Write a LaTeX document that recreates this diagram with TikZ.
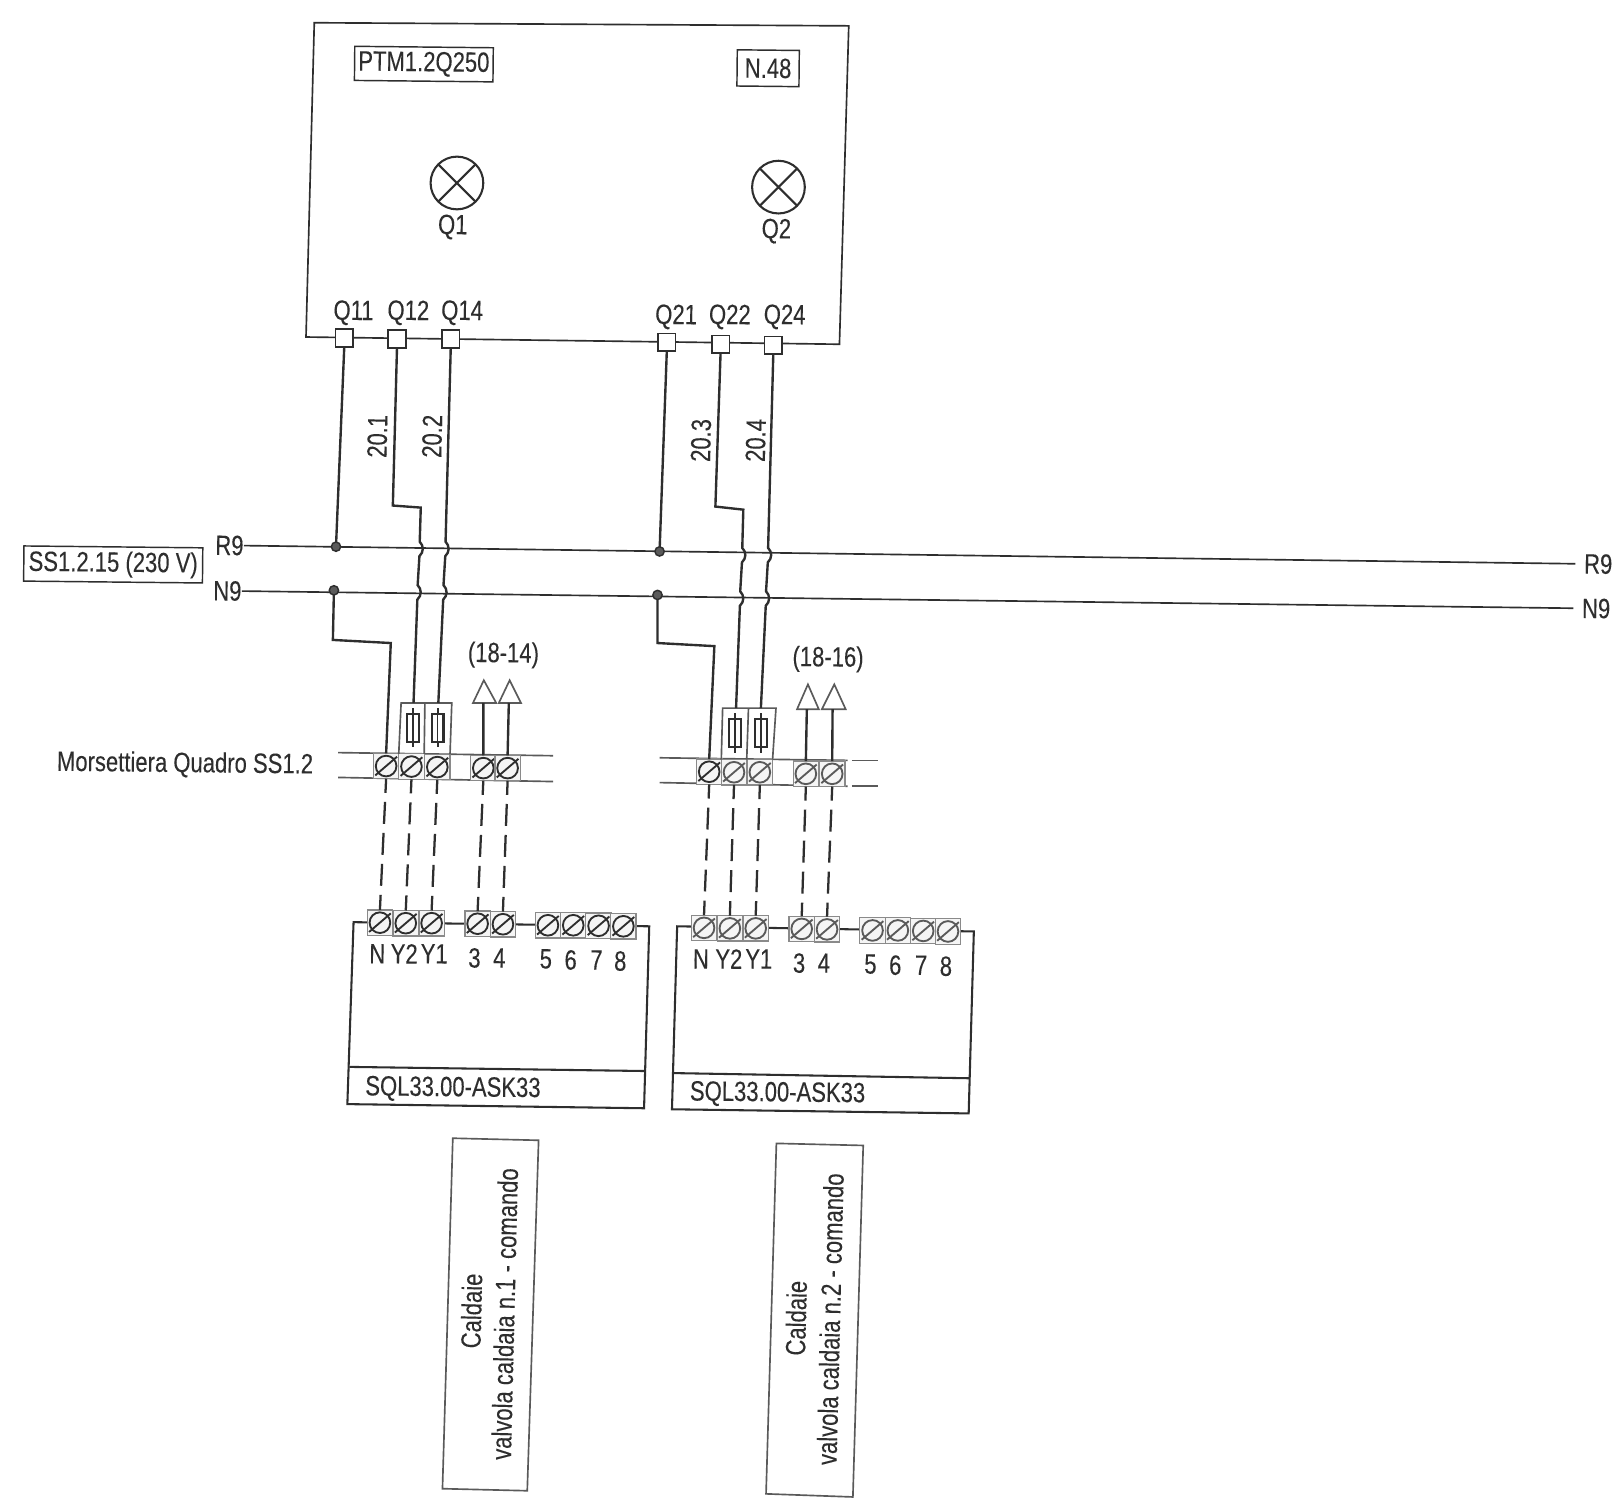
\documentclass[tikz,border=0pt]{standalone}
\usepackage{fontspec}
\setmainfont{Liberation Sans}[FakeStretch=0.79,FakeBold=0.12]
\definecolor{ink}{HTML}{2E2E2E}
\definecolor{cellc}{HTML}{8A8A8A}
\definecolor{softink}{HTML}{5A5A5A}
\newcommand{\cellterm}[4][ink]{%
  \node[cellbox] (#2) at (#3,#4) {};
  \draw[color=#1,line width=.9pt] (#2.center) circle (10);
  \draw[color=#1,line width=.9pt] ($(#2.center)+(-10.5,9)$) -- ($(#2.center)+(10.5,-9)$);
}
\newcommand{\hopat}[2]{-- (#1,#2-7) .. controls (#1+4,#2-3) and (#1+4,#2+3) .. (#1-0.3,#2+7)}
\usetikzlibrary{calc}
\tikzset{
  wire/.style={draw=ink,line width=1.15pt},
  thin wire/.style={draw=ink,line width=.8pt},
  dash wire/.style={draw=ink,line width=1.1pt,dash pattern=on 10.6pt off 4.4pt,dash phase=3.8pt},
  boxline/.style={draw=ink,line width=.8pt},
  cellbox/.style={draw=cellc,line width=.6pt,fill=black!4,minimum width=12.3pt,minimum height=12.3pt,inner sep=0pt,outer sep=0pt},
  qterm/.style={draw=ink,line width=.8pt,fill=white,minimum size=8.5pt,inner sep=0pt,outer sep=0pt},
  junction/.style={circle,draw=ink,line width=.7pt,fill=softink,minimum size=4.5pt,inner sep=0pt,outer sep=0pt},
  txt/.style={font=\fontsize{13.5pt}{15pt}\selectfont,text=ink,inner sep=0pt,rotate=-0.6,yshift=-.8pt},
  vtxt/.style={font=\fontsize{13.5pt}{15pt}\selectfont,text=ink,inner sep=0pt,rotate=88.6},
  lampc/.style={circle,draw=ink,line width=1pt,minimum size=25.5pt,inner sep=0pt,outer sep=0pt},
  framed/.style={draw=ink,line width=.7pt,fill=white,font=\fontsize{13.5pt}{15pt}\selectfont,text=ink,inner sep=0pt,rotate=-0.6},
  fusebody/.style={draw=ink,line width=1pt,fill=white,minimum width=5.6pt,minimum height=13.5pt,inner sep=0pt,outer sep=0pt},
  arrowtri/.style={draw=softink,line width=.8pt,fill=white},
  strip/.style={draw=softink,line width=.8pt},
}
\begin{document}
\begin{tikzpicture}[x=0.5pt,y=-0.5pt]
\useasboundingbox (0,0) rectangle (1568,1456);
\fill[white] (0,0) rectangle (1568,1456);

% main panel
\draw[boxline] (304,22) coordinate (pa) -- (821,25) coordinate (pb) -- (812,333) coordinate (pc) -- (296,326) coordinate (pd) -- cycle;
\node[framed,minimum width=67pt,minimum height=16.5pt] (ptm) at (410,62) {\raisebox{-.8pt}{PTM1.2Q250}};
\node[framed,minimum width=30pt,minimum height=17.5pt] (n48) at (743,66) {\raisebox{-.8pt}{N.48}};
\node[lampc] (l1) at (442,177) {};
\draw[line width=1pt,draw=ink] (l1.45) -- (l1.225) (l1.135) -- (l1.315);
\node[lampc] (l2) at (753,181) {};
\draw[line width=1pt,draw=ink] (l2.45) -- (l2.225) (l2.135) -- (l2.315);
\node[txt] (tq1) at (438,218) {Q1};
\node[txt] (tq2) at (751,222) {Q2};
\node[txt] (t11) at (342,301) {Q11};
\node[txt] (t12) at (395,301) {Q12};
\node[txt] (t14) at (447,301) {Q14};
\node[txt] (t21) at (654,305) {Q21};
\node[txt] (t22) at (706,305) {Q22};
\node[txt] (t24) at (759,305) {Q24};
\node[qterm] (q11) at (333,327) {};
\node[qterm] (q12) at (384,328) {};
\node[qterm] (q14) at (436,328) {};
\node[qterm] (q21) at (645,331) {};
\node[qterm] (q22) at (697,333) {};
\node[qterm] (q24) at (748,334) {};

% bus
\node[txt] (r9l) at (222,526) {R9};
\node[txt] (n9l) at (220,570) {N9};
\node[txt] (r9r) at (1546,544) {R9};
\node[txt] (n9r) at (1544,587) {N9};
\draw[thin wire,shorten >=4pt] (r9l.east) -- (r9r.west);
\draw[thin wire,shorten >=4pt] (n9l.east) -- (n9r.west);
\node[framed,minimum width=86.5pt,minimum height=17pt] (ss) at (109.5,546) {\raisebox{-.8pt}{SS1.2.15 (230 V)}};
\node[junction] (jr1) at (325,528.8) {};
\node[junction] (jn1) at (323,571) {};
\node[junction] (jr2) at (638,533.4) {};
\node[junction] (jn2) at (636,575.5) {};

% upper terminal strips
\draw[strip] (327,728) -- (535,731);
\draw[strip] (327,752) -- (535,756);
\draw[strip] (638,733) -- (820,735.5);
\draw[strip] (638,757) -- (820,760.5);
\draw[strip] (824,735.5) -- (849,735.5);
\draw[strip] (824,760.5) -- (849,760.5);
\node[txt] (mq) at (179,738) {Morsettiera Quadro SS1.2};

\cellterm{ua1}{373.5}{741}
\cellterm{ua2}{398}{741.5}
\cellterm{ua3}{423}{742}
\cellterm{ua4}{467.5}{743}
\cellterm{ua5}{491}{743}
\cellterm{ub1}{686}{746.5}
\cellterm[softink]{ub2}{710}{747}
\cellterm[softink]{ub3}{735}{747}
\cellterm[softink]{ub4}{779.5}{748.5}
\cellterm[softink]{ub5}{805}{748.5}

% fuse boxes
\draw[boxline,draw=softink] (ua2.north west) -- (388,680) coordinate (fa1) -- (437,680) coordinate (fa2) -- (ua3.north east);
\draw[boxline,draw=softink] (411,680) coordinate (fa3) -- (ua2.north east);
\draw[boxline,draw=softink] (ub2.north west) -- (699,685) coordinate (fb1) -- (750.6,685) coordinate (fb2) -- (ub3.north east);
\draw[boxline,draw=softink] (724,685) coordinate (fb3) -- (ub2.north east);
\foreach \n/\x/\y in {fu1/399.6/704,fu2/423.4/704,fu3/711/709,fu4/736/709}{
  \draw[draw=ink,line width=1pt] (\x,\y-19) -- (\x,\y+19);
  \node[fusebody] (\n) at (\x,\y) {};
  \draw[draw=ink,line width=.6pt] (\x,\y-19) -- (\x,\y+19);
}

% panel to bus wires
\draw[wire] (q11.south) -- (jr1);
\draw[wire] (jn1) -- (322,619) -- (378,622) -- (ua1.north);
\draw[wire] (q12.south) -- (380,489) -- (407,491) \hopat{406}{531} \hopat{404}{573} -- (400,680);
\draw[wire] (q14.south) \hopat{431}{531} \hopat{429}{573} -- (424,680);
\draw[wire] (q21.south) -- (jr2);
\draw[wire] (jn2) -- (636,622) -- (691,625) -- (ub1.north);
\draw[wire] (q22.south) -- (692,490) -- (719,493) \hopat{718}{537} \hopat{716}{579} -- (712,685);
\draw[wire] (q24.south) \hopat{743}{537} \hopat{741}{579} -- (736,685);

% triangles
\draw[arrowtri] (468,658) coordinate (ta1) -- (480,680) coordinate (ta1r) -- (457.5,680) coordinate (ta1l) -- cycle;
\draw[arrowtri] (493,658) coordinate (ta2) -- (504,680) coordinate (ta2r) -- (482.5,680) coordinate (ta2l) -- cycle;
\draw[arrowtri] (781.5,662) coordinate (tb1) -- (792,686) coordinate (tb1r) -- (771,686) coordinate (tb1l) -- cycle;
\draw[arrowtri] (807,662) coordinate (tb2) -- (818,686) coordinate (tb2r) -- (795,686) coordinate (tb2l) -- cycle;
\draw[wire] ($(ta1l)!.45!(ta1r)$) -- (ua4.north);
\draw[wire] ($(ta2l)!.45!(ta2r)$) -- (ua5.north);
\draw[wire] ($(tb1l)!.45!(tb1r)$) -- (ub4.north);
\draw[wire] ($(tb2l)!.45!(tb2r)$) -- (ub5.north);
\node[txt] (g1) at (487,632) {(18-14)};
\node[txt] (g2) at (801,636) {(18-16)};

% wire numbers
\node[vtxt] (w1) at (365,422) {20.1};
\node[vtxt] (w2) at (418,422) {20.2};
\node[vtxt] (w3) at (678,426) {20.3};
\node[vtxt] (w4) at (731,426) {20.4};

% device 1
\draw[boxline,line width=1pt] (342,892) coordinate (d1a) -- (628,896) coordinate (d1b) -- (623,1072) coordinate (d1c) -- (336,1068) coordinate (d1d) -- cycle;
\draw[boxline,line width=1pt] (338,1032) coordinate (d1e) -- (624,1036) coordinate (d1f);
\cellterm{a1}{367.5}{892.5}
\cellterm{a2}{392.5}{893}
\cellterm{a3}{417.5}{893}
\cellterm{a4}{462}{893.5}
\cellterm{a5}{486.5}{894}
\cellterm{a6}{530}{895}
\cellterm{a7}{554.5}{895}
\cellterm{a8}{579}{895.5}
\cellterm{a9}{603}{896}
\node[txt] (la1) at (365,921) {N};
\node[txt] (la2) at (391,921) {Y2};
\node[txt] (la3) at (420,921) {Y1};
\node[txt] (la4) at (459,925) {3};
\node[txt] (la5) at (483,925) {4};
\node[txt] (la6) at (528,926) {5};
\node[txt] (la7) at (552,927) {6};
\node[txt] (la8) at (577,927) {7};
\node[txt] (la9) at (600,928) {8};
\node[txt,anchor=west] (dn1) at (353,1051) {SQL33.00-ASK33};

% device 2
\draw[boxline,line width=1pt] (655,896) coordinate (d2a) -- (942,901) coordinate (d2b) -- (937,1077) coordinate (d2c) -- (650,1073) coordinate (d2d) -- cycle;
\draw[boxline,line width=1pt] (652,1038) coordinate (d2e) -- (938,1043) coordinate (d2f);
\cellterm[softink]{b1}{681}{897.5}
\cellterm[softink]{b2}{706}{898}
\cellterm[softink]{b3}{731}{898}
\cellterm[softink]{b4}{775.5}{898.5}
\cellterm[softink]{b5}{800}{899}
\cellterm[softink]{b6}{844}{900}
\cellterm[softink]{b7}{868.5}{900}
\cellterm[softink]{b8}{893}{900.5}
\cellterm[softink]{b9}{917}{901}
\node[txt] (lb1) at (678,926) {N};
\node[txt] (lb2) at (705,926) {Y2};
\node[txt] (lb3) at (734,926) {Y1};
\node[txt] (lb4) at (773,930) {3};
\node[txt] (lb5) at (797,930) {4};
\node[txt] (lb6) at (842,931) {5};
\node[txt] (lb7) at (866,932) {6};
\node[txt] (lb8) at (891,932) {7};
\node[txt] (lb9) at (915,933) {8};
\node[txt,anchor=west] (dn2) at (667,1056) {SQL33.00-ASK33};

% dashed links
\foreach \u/\v in {ua1/a1,ua2/a2,ua3/a3,ua4/a4,ua5/a5,ub1/b1,ub2/b2,ub3/b3,ub4/b4,ub5/b5}{
  \draw[dash wire] (\u.south) -- (\v.north);
}

% description boxes
\draw[boxline,draw=softink] (438,1101) coordinate (c1a) -- (521,1103) coordinate (c1b) -- (510,1442) coordinate (c1c) -- (428,1440) coordinate (c1d) -- cycle;
\node[vtxt] (c1t1) at (456,1268) {Caldaie};
\node[vtxt] (c1t2) at (488,1271) {valvola caldaia n.1 - comando};
\draw[boxline,draw=softink] (751,1106) coordinate (c2a) -- (835,1108) coordinate (c2b) -- (825,1448) coordinate (c2c) -- (741,1445) coordinate (c2d) -- cycle;
\node[vtxt] (c2t1) at (770,1275) {Caldaie};
\node[vtxt] (c2t2) at (803,1276) {valvola caldaia n.2 - comando};
\end{tikzpicture}
\end{document}
